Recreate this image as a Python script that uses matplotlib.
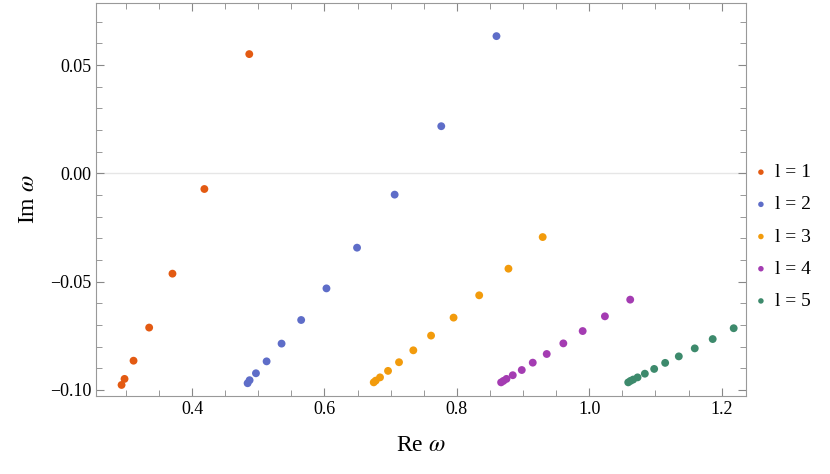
import matplotlib
matplotlib.use("Agg")
import matplotlib.pyplot as plt

re1 = [0.2935, 0.298, 0.3116, 0.3352, 0.3704, 0.4186, 0.4864]
im1 = [-0.0977, -0.0949, -0.0865, -0.0712, -0.0463, -0.0072, 0.0551]
re2 = [0.4839, 0.4869, 0.4965, 0.5126, 0.5352, 0.5648, 0.603, 0.6492, 0.706, 0.7764, 0.8598]
im2 = [-0.0969, -0.0955, -0.0923, -0.0868, -0.0786, -0.0677, -0.0531, -0.0343, -0.0098, 0.0218, 0.0634]
re3 = [0.6744, 0.6774, 0.6839, 0.696, 0.7126, 0.7342, 0.761, 0.795, 0.8337, 0.8779, 0.9296]
im3 = [-0.0965, -0.0957, -0.0942, -0.0912, -0.0872, -0.0817, -0.0749, -0.0666, -0.0563, -0.044, -0.0294]
re4 = [0.8668, 0.8704, 0.8749, 0.8844, 0.898, 0.9146, 0.9357, 0.9608, 0.99, 1.0236, 1.0618]
im4 = [-0.0965, -0.0958, -0.0949, -0.0932, -0.0908, -0.0874, -0.0834, -0.0785, -0.0728, -0.066, -0.0583]
re5 = [1.0588, 1.0623, 1.0663, 1.0729, 1.0839, 1.098, 1.1146, 1.1352, 1.1593, 1.1864, 1.2181]
im5 = [-0.0965, -0.0958, -0.0952, -0.0942, -0.0925, -0.0903, -0.0875, -0.0845, -0.0808, -0.0765, -0.0715]
labels = ["l = 1", "l = 2", "l = 3", "l = 4", "l = 5"]
colors = ["#e35a12", "#5e6dc8", "#f29b0c", "#a43cb2", "#3d8a6c"]

plt.rcParams["font.family"] = "Liberation Serif"
plt.rcParams["mathtext.fontset"] = "stix"
fig = plt.figure(figsize=(8.30, 4.74), dpi=100)
ax = fig.add_axes([96/830, 1-396/474, (746-96)/830, (396-3)/474])
ax.axhline(0, color="#e6e6e6", lw=1, zorder=0)
for xs, ys, lab, c in zip([re1, re2, re3, re4, re5], [im1, im2, im3, im4, im5], labels, colors):
    ax.scatter(xs, ys, s=32, color=c, label=lab, edgecolors="none", zorder=3)
ax.set_xlim(0.2549, 1.2367)
ax.set_ylim(-0.1028, 0.0787)
ax.set_xticks([0.4, 0.6, 0.8, 1.0, 1.2])
ax.set_xticks([0.3, 0.35, 0.45, 0.5, 0.55, 0.65, 0.7, 0.75, 0.85, 0.9, 0.95, 1.05, 1.1, 1.15, 1.2], minor=True)
ax.set_yticks([-0.10, -0.05, 0.0, 0.05])
ax.set_yticklabels(["\u22120.10", "\u22120.05", "0.00", "0.05"])
ax.set_yticks([-0.1+0.01*i for i in range(18)], minor=True)
ax.tick_params(which="both", direction="in", top=True, right=True, colors="#888888", labelcolor="black", labelsize=13)
ax.tick_params(which="major", length=6)
ax.tick_params(which="minor", length=4)
for s in ax.spines.values():
    s.set_color("#999999")
ax.set_xlabel("Re $\\omega$", fontsize=17, labelpad=12)
ax.set_ylabel("Im $\\omega$", fontsize=17, labelpad=8)
ax.legend(loc="center left", bbox_to_anchor=(1.005, 0.405), frameon=False, fontsize=14,
          handletextpad=0.3, handlelength=0.8, borderaxespad=0.0, borderpad=0.2,
          markerscale=0.7, labelspacing=0.75)
fig.savefig("out.png", dpi=100)
